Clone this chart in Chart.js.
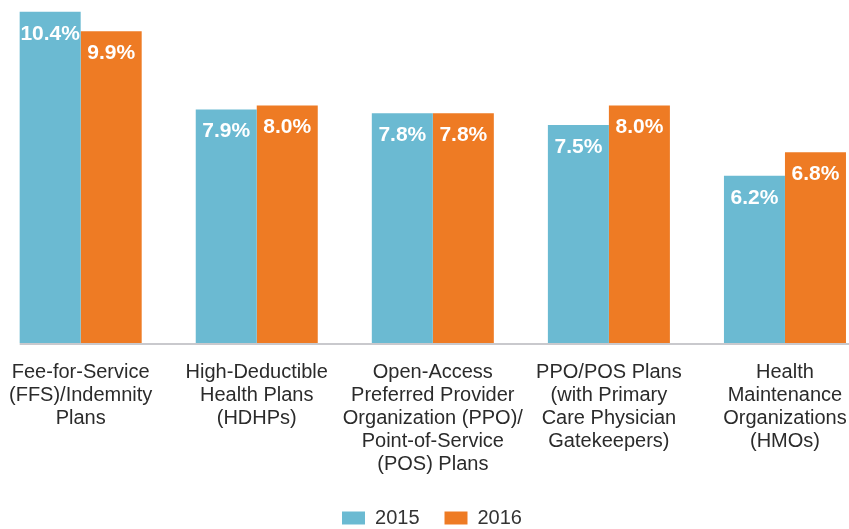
<!DOCTYPE html>
<html><head><meta charset="utf-8">
<script src="https://cdn.jsdelivr.net/npm/chart.js@4/dist/chart.umd.min.js"></script>
<style>
html,body{margin:0;padding:0;overflow:hidden;background:#fff;width:849px;height:529px}
#wrap{position:absolute;left:-9px;top:0;width:882px;height:529px}
</style></head>
<body><div id="wrap"><canvas id="c"></canvas></div>
<script>
const categories = [
  ["Fee-for-Service","(FFS)/Indemnity","Plans"],
  ["High-Deductible","Health Plans","(HDHPs)"],
  ["Open-Access","Preferred Provider","Organization (PPO)/","Point-of-Service","(POS) Plans"],
  ["PPO/POS Plans","(with Primary","Care Physician","Gatekeepers)"],
  ["Health","Maintenance","Organizations","(HMOs)"]
];
const seriesNames = ["2015","2016"];
const values2015 = [10.4, 7.9, 7.8, 7.5, 6.2];
const values2016 = [9.9, 8.0, 7.8, 8.0, 6.8];
const colors = ["#6BBAD2", "#EE7B24"];
const FONT = "'Liberation Sans', Arial, Helvetica, sans-serif";

const labelPlugin = {
  id: 'barLabels',
  afterDatasetsDraw(chart) {
    const ctx = chart.ctx;
    ctx.save();
    const first = chart.getDatasetMeta(0).data[0];
    const left = first.x - first.width / 2;
    ctx.strokeStyle = '#c9c9cd';
    ctx.lineWidth = 2;
    ctx.beginPath();
    ctx.moveTo(left, chart.chartArea.bottom + 1);
    ctx.lineTo(chart.width, chart.chartArea.bottom + 1);
    ctx.stroke();
    ctx.fillStyle = '#ffffff';
    ctx.font = "bold 21px " + FONT;
    ctx.textAlign = 'center';
    ctx.textBaseline = 'middle';
    chart.data.datasets.forEach((ds, di) => {
      chart.getDatasetMeta(di).data.forEach((bar, i) => {
        ctx.fillText(ds.data[i].toFixed(1) + '%', bar.x, bar.y + 22);
      });
    });
    ctx.restore();
  }
};

new Chart(document.getElementById('c'), {
  type: 'bar',
  data: {
    labels: categories,
    datasets: [
      { label: seriesNames[0], data: values2015, backgroundColor: colors[0] },
      { label: seriesNames[1], data: values2016, backgroundColor: colors[1] }
    ]
  },
  options: {
    responsive: true,
    maintainAspectRatio: false,
    animation: false,
    layout: { padding: { top: 0, left: 0, right: 0, bottom: -9 } },
    datasets: { bar: { categoryPercentage: 0.693, barPercentage: 1.0 } },
    plugins: {
      tooltip: { enabled: false },
      legend: {
        position: 'bottom',
        labels: {
          boxWidth: 23, boxHeight: 13, padding: 25,
          color: '#333333',
          font: { family: FONT, size: 20 }
        }
      }
    },
    scales: {
      x: {
        grid: { display: false, drawTicks: false },
        border: { display: false },
        afterFit(scale) { scale.height = 140; },
        ticks: {
          color: '#2b2b2b', padding: 18, maxRotation: 0, autoSkip: false,
          font: { family: FONT, size: 20, lineHeight: 1.15 }
        }
      },
      y: { display: false, min: 1.92, max: 10.7 }
    }
  },
  plugins: [labelPlugin]
});
</script>
</body></html>
